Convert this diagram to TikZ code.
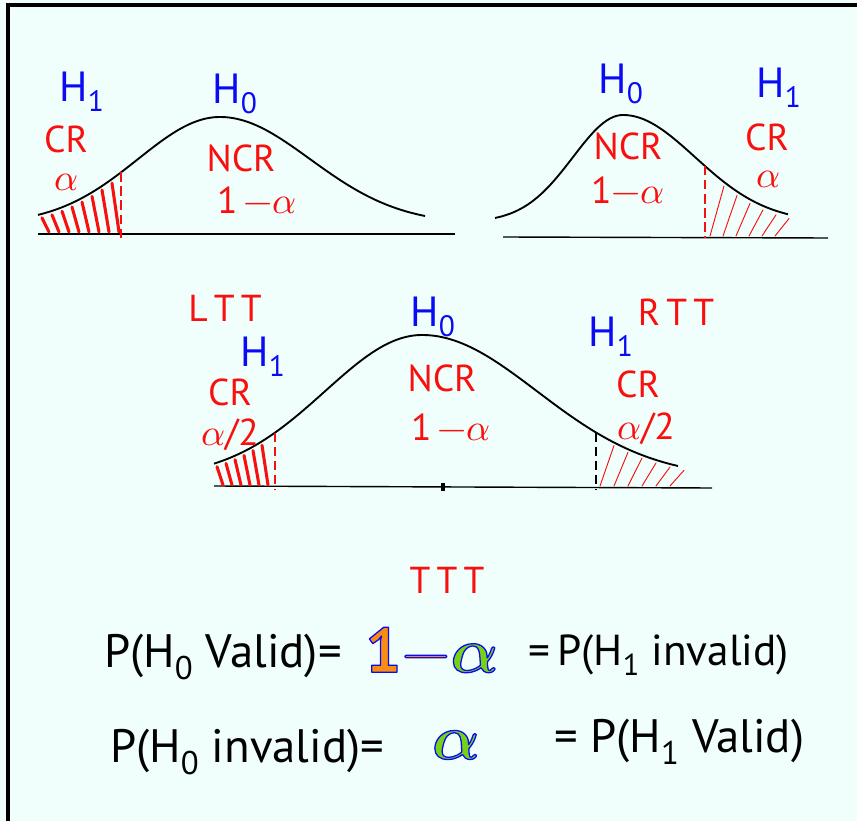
\documentclass[tikz,border=0pt]{standalone}
\usepackage{unicode-math}
\setmainfont{PT Sans}
\setmathfont{Latin Modern Math}

\definecolor{bgcol}{RGB}{240,255,252}
\definecolor{hblue}{RGB}{10,10,245}
\definecolor{crred}{RGB}{250,15,15}
\definecolor{rborange}{RGB}{250,140,20}
\definecolor{rbgreen}{RGB}{120,210,20}

\newcommand\rimtext[2]{\textcolor{#1}{\special{pdf:literal direct 0.04 0.04 0.96 RG 2 Tr 1.1 w 1 j}#2\special{pdf:literal direct 0 Tr}}}

\tikzset{
  declare function={bell(\t,\c,\s)=exp(-0.5*((\t-\c)/\s)^2);},
  hyp/.style={text=hblue,font=\fontsize{36}{38}\selectfont},
  lbl/.style={text=crred,inner sep=1pt,font=\fontsize{32}{34}\selectfont},
  eqn/.style={font=\fontsize{40}{42}\selectfont},
  eqbig/.style={font=\fontsize{54}{56}\selectfont},
  curve/.style={line width=1.6pt},
  axis/.style={line width=1.2pt},
  crit/.style={crred,dash pattern=on 8pt off 4pt,line width=2.2pt},
  critblack/.style={black,dash pattern=on 8pt off 4pt,line width=2.2pt},
  hatchthick/.style={crred,line width=2.6pt,line cap=round},
  hatchthin/.style={crred,line width=0.8pt,line cap=round},
}

\begin{document}
\begin{tikzpicture}[x=0.03cm,y=-0.03cm]
  \useasboundingbox (0,0) rectangle (857,821);
  \fill[bgcol] (0,0) rectangle (857,821);
  \draw[line width=2.6pt] (8,821) -- (8,5) -- (857,5);

  % left tailed test
  \draw[axis] (38,234) -- (455,234);
  \draw[curve] plot[domain=38:220,samples=40,smooth] (\x,{224-107*bell(\x,220,82)})
    -- plot[domain=220:425,samples=40,smooth] (\x,{224-107*bell(\x,220,90)});
  \foreach \hx in {47,57,...,117}
    \draw[hatchthick] ({\hx-5},{228-107*bell(\hx-5,220,82)}) -- ({\hx+2},232);
  \draw[crit] (121,{224-107*bell(121,220,82)}) -- (121,240);

  \node[hyp] (hatl) at (82,92) {H\textsubscript{1}};
  \node[hyp] (hotl) at (235,94) {H\textsubscript{0}};
  \node[lbl] (crtl) at (66,139) {CR};
  \node[lbl] (altl) at (66,182) {$\alpha$};
  \node[lbl] (nctl) at (241,158) {NCR};
  \node[lbl] (oatl) at (257,200) {1\,$-\alpha$};

  % right tailed test
  \draw[axis] (503,237) -- (828,238);
  \draw[curve] plot[domain=495:623,samples=40,smooth] (\x,{222-107*bell(\x,623,50)})
    -- plot[domain=623:788,samples=40,smooth] (\x,{222-107*bell(\x,623,72)});
  \foreach \hx in {716,729,...,790}
    \draw[hatchthin] ({\hx-6},236) -- ({\hx+8},{226-107*bell(\hx+8,623,72)});
  \draw[crit] (705,{222-107*bell(705,623,72)}) -- (705,238);

  \node[hyp] (hotr) at (621,84) {H\textsubscript{0}};
  \node[hyp] (hatr) at (779,88) {H\textsubscript{1}};
  \node[lbl] (nctr) at (628,146) {NCR};
  \node[lbl] (oatr) at (628,190) {1$-\alpha$};
  \node[lbl] (crtr) at (767,137) {CR};
  \node[lbl] (altr) at (768,179) {$\alpha$};

  % two tailed test
  \draw[axis] (214,486) -- (712,488);
  \draw[curve] plot[domain=214:422,samples=40,smooth] (\x,{478-143*bell(\x,422,97)})
    -- plot[domain=422:678,samples=40,smooth] (\x,{478-143*bell(\x,422,115)});
  \foreach \hx in {221,230,...,268}
    \draw[hatchthick] ({\hx-4},{482-143*bell(\hx-4,422,97)}) -- ({\hx+2},485);
  \foreach \hx in {606,620,...,676}
    \draw[hatchthin] ({\hx-6},486) -- ({\hx+8},{481-143*bell(\hx+8,422,115)});
  \draw[crit] (275,{478-143*bell(275,422,97)}) -- (275,489);
  \draw[critblack] (596,{478-143*bell(596,422,115)}) -- (596,489);
  \draw[line width=3pt] (443,483) -- (443,491);

  \node[lbl] (ltt) at (225,308) {L\,T\,T};
  \node[hyp] (hatm) at (263,357) {H\textsubscript{1}};
  \node[lbl] (crlm) at (230,392) {CR};
  \node[lbl] (hflm) at (230,435) {$\alpha$/2};
  \node[hyp] (hotm) at (433,317) {H\textsubscript{0}};
  \node[lbl] (nctm) at (442,378) {NCR};
  \node[lbl] (oatm) at (451,427) {1\,$-\alpha$};
  \node[hyp] (hbtm) at (611,337) {H\textsubscript{1}};
  \node[lbl] (rtt) at (676,312) {R\,T\,T};
  \node[lbl] (crrm) at (638,384) {CR};
  \node[lbl] (hfrm) at (646,429) {$\alpha$/2};

  % probabilities
  \node[lbl] (ttt) at (447,580) {T\,T\,T};

  \node[eqn,anchor=west] (pvl) at (100,657) {P(H\textsubscript{0} Valid)=};
  \node[eqbig] (pvm) at (432,650) {\rimtext{rborange}{\bfseries 1}\rimtext{rborange}{$\symbf{-}$}\rimtext{rbgreen}{$\symbfit{\alpha}$}};
  \node[eqn,anchor=west,font=\fontsize{37}{40}\selectfont] (pvr) at (524,655) {=\,P(H\textsubscript{1} invalid)};

  \node[eqn,anchor=west] (pil) at (106,752) {P(H\textsubscript{0} invalid)=};
  \node[eqbig] (pim) at (456,745) {\rimtext{rbgreen}{$\symbfit{\alpha}$}};
  \node[eqn,anchor=west] (pir) at (550,742) {= P(H\textsubscript{1} Valid)};
\end{tikzpicture}
\end{document}
